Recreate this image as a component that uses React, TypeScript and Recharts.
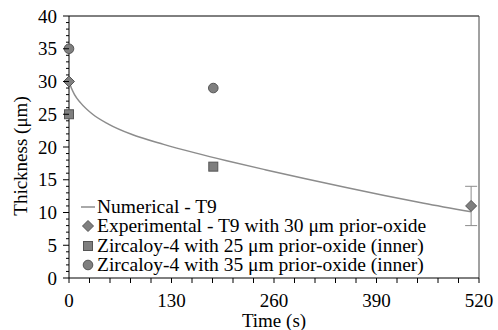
import React from 'react';
import {
  ComposedChart, Line, Scatter, ErrorBar, XAxis, YAxis, ReferenceLine, Label,
} from 'recharts';

// Numerische Kurve (Zeit in s, Dicke in µm)
const numZeit = [0, 3, 7, 15, 30, 50, 80, 120, 160, 200, 250, 300, 350, 400, 450, 510];
const numDicke = [30, 29.0, 28.0, 26.7, 25.0, 23.5, 21.9, 20.4, 19.1, 17.9, 16.5, 15.15, 13.85, 12.6, 11.4, 10.1];

// Experimentell T9
const expZeit = [0, 510];
const expDicke = [30, 11];
const expFehler = [0, 3];

// Zircaloy-4, 25 µm
const zr25Zeit = [0, 183];
const zr25Dicke = [25, 17];

// Zircaloy-4, 35 µm
const zr35Zeit = [0, 183];
const zr35Dicke = [35, 29];

const xHaupt = [0, 130, 260, 390, 520];
const yHaupt = [0, 5, 10, 15, 20, 25, 30, 35, 40];
const xNeben = Array.from({ length: 21 }, (_, i) => i * 26);
const yNeben = Array.from({ length: 41 }, (_, i) => i);

const SCHRIFT = '"Liberation Serif", "Times New Roman", serif';
const MARKER = '#7f7f7f';
const RAND = '#555555';
const LINIE = '#8c8c8c';
const textStil = { fontFamily: SCHRIFT, fontSize: 19 };

const numerisch = numZeit.map((x, i) => ({ x, y: numDicke[i] }));
const experimentell = expZeit.map((x, i) => ({ x, y: expDicke[i], err: expFehler[i] }));
const zr25 = zr25Zeit.map((x, i) => ({ x, y: zr25Dicke[i] }));
const zr35 = zr35Zeit.map((x, i) => ({ x, y: zr35Dicke[i] }));

function Raute({ cx, cy }: any) {
  return <polygon points={`${cx},${cy - 5.5} ${cx + 5.5},${cy} ${cx},${cy + 5.5} ${cx - 5.5},${cy}`} fill={MARKER} stroke={RAND} strokeWidth={1} />;
}
function Quadrat({ cx, cy }: any) {
  return <rect x={cx - 4.5} y={cy - 4.5} width={9} height={9} fill={MARKER} stroke={RAND} strokeWidth={1} />;
}
function Kreis({ cx, cy }: any) {
  return <circle cx={cx} cy={cy} r={4.8} fill={MARKER} stroke={RAND} strokeWidth={1} />;
}

function XTick({ x, y, payload }: any) {
  const haupt = xHaupt.includes(payload.value);
  return (
    <g>
      <line x1={x} x2={x} y1={y} y2={y + 5} stroke="#000" />
      {haupt && (
        <text x={x} y={y + 22} textAnchor="middle" dominantBaseline="central" style={textStil} fill="#000">
          {payload.value}
        </text>
      )}
    </g>
  );
}

function YTick({ x, y, payload }: any) {
  const haupt = yHaupt.includes(payload.value);
  return (
    <g>
      <line x1={x - (haupt ? 6 : 3)} x2={x} y1={y} y2={y} stroke="#000" />
      {haupt && (
        <text x={x - 12} y={y} textAnchor="end" dominantBaseline="central" style={textStil} fill="#000">
          {payload.value}
        </text>
      )}
    </g>
  );
}

const legendEintraege = [
  { name: 'Numerical - T9', typ: 'linie' },
  { name: 'Experimental - T9 with 30 μm prior-oxide', typ: 'raute' },
  { name: 'Zircaloy-4 with 25 μm prior-oxide (inner)', typ: 'quadrat' },
  { name: 'Zircaloy-4 with 35 μm prior-oxide (inner)', typ: 'kreis' },
];

function Legende() {
  return (
    <div style={{ position: 'absolute', left: 80, top: 197, fontFamily: SCHRIFT, fontSize: 19.5, lineHeight: '19.4px', color: '#000' }}>
      {legendEintraege.map((e) => (
        <div key={e.name} style={{ display: 'flex', alignItems: 'center', whiteSpace: 'nowrap' }}>
          <svg width={16} height={14} style={{ marginRight: 1 }}>
            {e.typ === 'linie' && <line x1={1} x2={15} y1={7} y2={7} stroke={LINIE} strokeWidth={1.5} />}
            {e.typ === 'raute' && <Raute cx={8} cy={7} />}
            {e.typ === 'quadrat' && <Quadrat cx={8} cy={7} />}
            {e.typ === 'kreis' && <Kreis cx={8} cy={7} />}
          </svg>
          <span>{e.name}</span>
        </div>
      ))}
    </div>
  );
}

export default function App() {
  return (
    <div style={{ position: 'absolute', left: 0, top: 0, width: 498, height: 330, fontFamily: SCHRIFT, background: '#fff' }}>
      <ComposedChart width={498} height={330} margin={{ top: 16, right: 19, bottom: 0, left: 0 }}>
        <XAxis
          dataKey="x"
          type="number"
          domain={[0, 520]}
          ticks={xNeben}
          interval={0}
          tick={<XTick />}
          tickLine={false}
          tickSize={0}
          tickMargin={0}
          height={52}
          stroke="#000"
        >
          <Label
            content={({ viewBox }: any) => (
              <text x={viewBox.x + viewBox.width / 2} y={viewBox.y + 42} textAnchor="middle" dominantBaseline="central" style={textStil} fill="#000">
                Time (s)
              </text>
            )}
          />
        </XAxis>
        <YAxis
          dataKey="y"
          type="number"
          domain={[0, 40]}
          ticks={yNeben}
          interval={0}
          tick={<YTick />}
          tickLine={false}
          tickSize={0}
          tickMargin={0}
          width={69}
          stroke="#000"
        >
          <Label
            content={({ viewBox }: any) => {
              const cx = viewBox.x + 20;
              const cy = viewBox.y + viewBox.height / 2 + 9;
              return (
                <text x={cx} y={cy} transform={`rotate(-90 ${cx} ${cy})`} textAnchor="middle" dominantBaseline="central" style={textStil} fill="#000">
                  Thickness (μm)
                </text>
              );
            }}
          />
        </YAxis>
        <ReferenceLine y={40} stroke="#000" strokeWidth={1} />
        <ReferenceLine x={520} stroke="#444" strokeWidth={1} />
        <Line
          data={numerisch}
          dataKey="y"
          type="monotone"
          stroke={LINIE}
          strokeWidth={1.5}
          dot={false}
          activeDot={false}
          isAnimationActive={false}
          name="Numerical - T9"
        />
        <Scatter data={experimentell} dataKey="y" shape={<Raute />} isAnimationActive={false} name="Experimental - T9 with 30 μm prior-oxide">
          <ErrorBar dataKey="err" direction="y" width={6} stroke={LINIE} strokeWidth={1} isAnimationActive={false} />
        </Scatter>
        <Scatter data={zr25} dataKey="y" shape={<Quadrat />} isAnimationActive={false} name="Zircaloy-4 with 25 μm prior-oxide (inner)" />
        <Scatter data={zr35} dataKey="y" shape={<Kreis />} isAnimationActive={false} name="Zircaloy-4 with 35 μm prior-oxide (inner)" />
      </ComposedChart>
      <Legende />
    </div>
  );
}
